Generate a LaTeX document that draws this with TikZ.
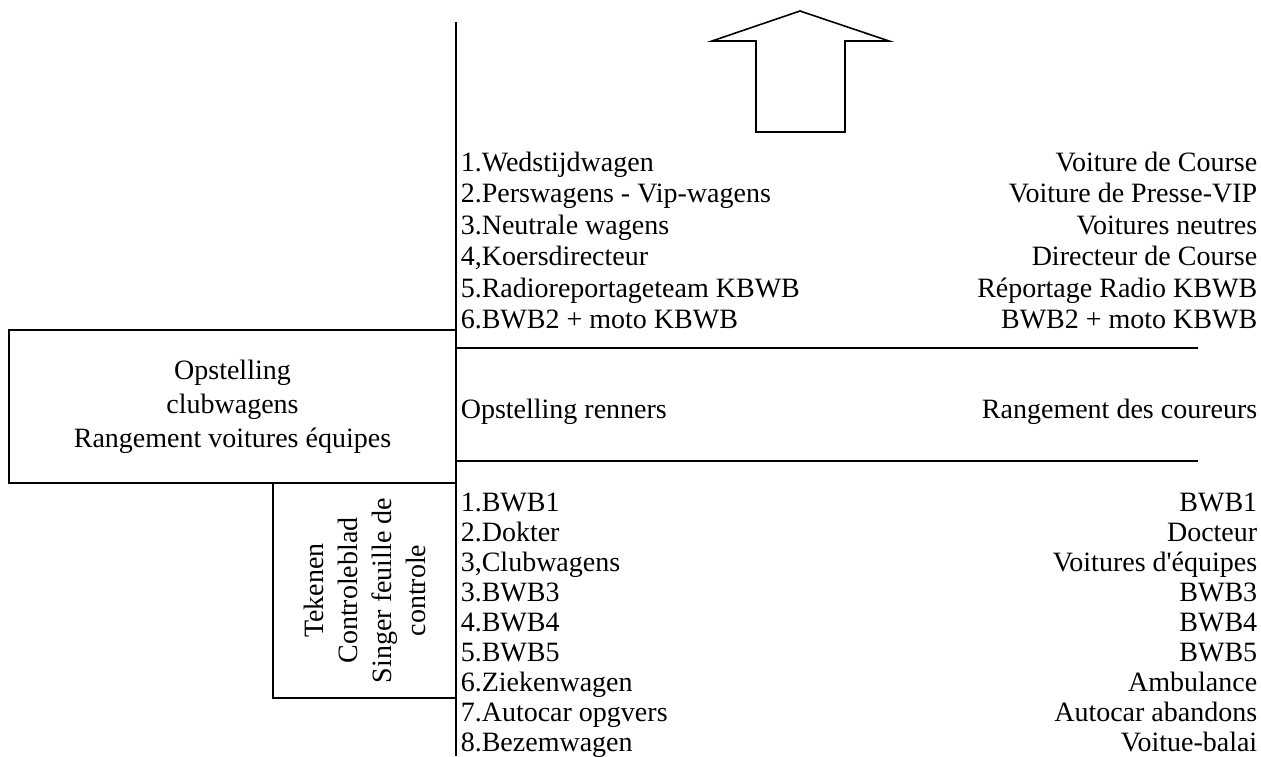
\documentclass[tikz,border=0pt]{standalone}
\usepackage{fontspec}
\setmainfont{Liberation Serif}
\usetikzlibrary{positioning}
\tikzset{
  every node/.style={
    inner sep=0pt,
    font=\fontsize{14}{17}\selectfont
  },
  rowleft/.style={anchor=base west},
  rowright/.style={anchor=base east},
  frame/.style={draw, line width=1pt, align=center}
}

\begin{document}
\begin{tikzpicture}[x=0.5pt,y=-0.5pt,line width=0.8pt]
  \useasboundingbox (0,0) rectangle (1261,756);

  % axis and direction of the race
  \coordinate (AxisTop) at (456,22);
  \coordinate (AxisBot) at (456,756);
  \draw[line width=1pt] (AxisTop) -- (AxisBot);
  \draw (756,132) -- (756,41) -- (712,41) -- (800,11) -- (889,41)
    -- (845,41) -- (845,132) -- cycle;

  % vehicles in front of the riders
  \foreach \nl/\fr [count=\i] in {
      {1.Wedstijdwagen}/{Voiture de Course},
      {2.Perswagens - Vip-wagens}/{Voiture de Presse-VIP},
      {3.Neutrale wagens}/{Voitures neutres},
      {4,Koersdirecteur}/{Directeur de Course},
      {5.Radioreportageteam KBWB}/{Réportage Radio KBWB},
      {6.BWB2 + moto KBWB}/{BWB2 + moto KBWB}}{
    \node[rowleft] (NlTop\i) at (460,{171+31.5*(\i-1)}) {\nl};
    \node[rowright] (FrTop\i) at (1258,{171+31.5*(\i-1)}) {\fr};
  }

  % riders
  \coordinate (SepA) at (456,348);
  \coordinate (SepAEnd) at (1198,348);
  \coordinate (SepB) at (456,461);
  \coordinate (SepBEnd) at (1198,461);
  \draw (SepA) -- (SepAEnd);
  \draw (SepB) -- (SepBEnd);
  \node[rowleft] (Riders) at (460,418) {Opstelling renners};
  \node[rowright] (Coureurs) at (1258,418) {Rangement des coureurs};

  % vehicles behind the riders
  \foreach \nl/\fr [count=\i] in {
      {1.BWB1}/{BWB1},
      {2.Dokter}/{Docteur},
      {3,Clubwagens}/{Voitures d\textquotesingle équipes},
      {3.BWB3}/{BWB3},
      {4.BWB4}/{BWB4},
      {5.BWB5}/{BWB5},
      {6.Ziekenwagen}/{Ambulance},
      {7.Autocar opgvers}/{Autocar abandons},
      {8.Bezemwagen}/{Voitue-balai}}{
    \node[rowleft] (NlBot\i) at (460,{511+30.1*(\i-1)}) {\nl};
    \node[rowright] (FrBot\i) at (1258,{511+30.1*(\i-1)}) {\fr};
  }

  % team cars and control sheet
  \node[frame, minimum width=223.5pt, minimum height=76.5pt]
    (ClubBox) at (232.5,406.5)
    {Opstelling\\clubwagens\\Rangement voitures équipes};
  \node[frame, rotate=90, minimum width=107.5pt, minimum height=91.5pt]
    (SignBox) at (364.5,590.5)
    {Tekenen\\Controleblad\\Singer feuille de\\controle};
\end{tikzpicture}
\end{document}
